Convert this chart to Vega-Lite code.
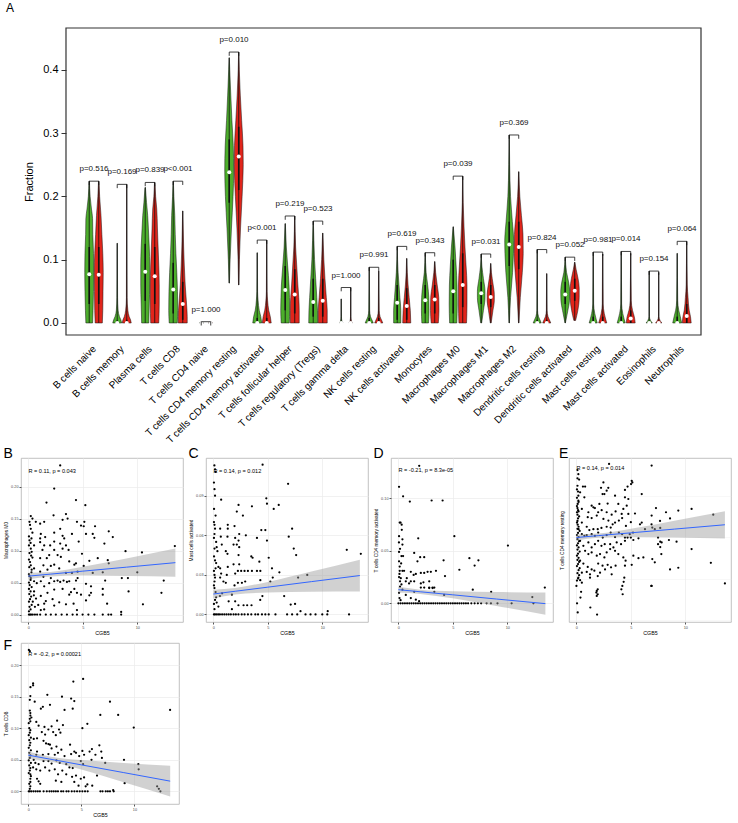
{
"$schema": "https://vega.github.io/schema/vega-lite/v6.json",
"background": "white",
"padding": {"left": 3, "top": 2, "right": 0, "bottom": 0},
"config": {"font": "Liberation Sans", "axis": {"labelOverlap": false}},
"columns": 1,
"align": "none",
"spacing": 1,
"datasets": {
"vio": [
{"c":1,"g":"G","y":0,"w":0.75},{"c":1,"g":"G","y":0.02,"w":0.85},{"c":1,"g":"G","y":0.05,"w":0.95},{"c":1,"g":"G","y":0.08,"w":1},{"c":1,"g":"G","y":0.11,"w":0.95},{"c":1,"g":"G","y":0.14,"w":0.8},{"c":1,"g":"G","y":0.165,"w":0.75},{"c":1,"g":"G","y":0.18,"w":0.5},{"c":1,"g":"G","y":0.2,"w":0.2},{"c":1,"g":"G","y":0.224,"w":0.05},
{"c":1,"g":"R","y":0,"w":0.8},{"c":1,"g":"R","y":0.02,"w":0.9},{"c":1,"g":"R","y":0.05,"w":0.95},{"c":1,"g":"R","y":0.08,"w":1},{"c":1,"g":"R","y":0.11,"w":0.9},{"c":1,"g":"R","y":0.14,"w":0.7},{"c":1,"g":"R","y":0.17,"w":0.5},{"c":1,"g":"R","y":0.2,"w":0.2},{"c":1,"g":"R","y":0.224,"w":0.05},
{"c":2,"g":"G","y":0,"w":1},{"c":2,"g":"G","y":0.005,"w":0.8},{"c":2,"g":"G","y":0.01,"w":0.5},{"c":2,"g":"G","y":0.02,"w":0.2},{"c":2,"g":"G","y":0.04,"w":0.08},{"c":2,"g":"G","y":0.126,"w":0.03},
{"c":2,"g":"R","y":0,"w":1},{"c":2,"g":"R","y":0.005,"w":0.85},{"c":2,"g":"R","y":0.01,"w":0.55},{"c":2,"g":"R","y":0.02,"w":0.25},{"c":2,"g":"R","y":0.04,"w":0.08},{"c":2,"g":"R","y":0.219,"w":0.03},
{"c":3,"g":"G","y":0,"w":0.8},{"c":3,"g":"G","y":0.03,"w":0.9},{"c":3,"g":"G","y":0.06,"w":1},{"c":3,"g":"G","y":0.09,"w":1},{"c":3,"g":"G","y":0.12,"w":0.9},{"c":3,"g":"G","y":0.15,"w":0.7},{"c":3,"g":"G","y":0.17,"w":0.55},{"c":3,"g":"G","y":0.19,"w":0.3},{"c":3,"g":"G","y":0.214,"w":0.05},
{"c":3,"g":"R","y":0,"w":0.9},{"c":3,"g":"R","y":0.03,"w":1},{"c":3,"g":"R","y":0.06,"w":1},{"c":3,"g":"R","y":0.09,"w":0.9},{"c":3,"g":"R","y":0.12,"w":0.75},{"c":3,"g":"R","y":0.15,"w":0.6},{"c":3,"g":"R","y":0.18,"w":0.45},{"c":3,"g":"R","y":0.2,"w":0.2},{"c":3,"g":"R","y":0.222,"w":0.05},
{"c":4,"g":"G","y":0,"w":0.9},{"c":4,"g":"G","y":0.02,"w":1},{"c":4,"g":"G","y":0.05,"w":0.95},{"c":4,"g":"G","y":0.08,"w":0.8},{"c":4,"g":"G","y":0.11,"w":0.6},{"c":4,"g":"G","y":0.14,"w":0.45},{"c":4,"g":"G","y":0.17,"w":0.35},{"c":4,"g":"G","y":0.2,"w":0.15},{"c":4,"g":"G","y":0.224,"w":0.03},
{"c":4,"g":"R","y":0,"w":1},{"c":4,"g":"R","y":0.01,"w":1},{"c":4,"g":"R","y":0.03,"w":0.85},{"c":4,"g":"R","y":0.06,"w":0.55},{"c":4,"g":"R","y":0.09,"w":0.35},{"c":4,"g":"R","y":0.12,"w":0.2},{"c":4,"g":"R","y":0.15,"w":0.1},{"c":4,"g":"R","y":0.177,"w":0.03},
{"c":5,"g":"G","y":0,"w":0.5},{"c":5,"g":"G","y":0.002,"w":0.1},{"c":5,"g":"R","y":0,"w":0.5},{"c":5,"g":"R","y":0.002,"w":0.1},
{"c":6,"g":"G","y":0.063,"w":0.05},{"c":6,"g":"G","y":0.1,"w":0.2},{"c":6,"g":"G","y":0.15,"w":0.5},{"c":6,"g":"G","y":0.2,"w":0.85},{"c":6,"g":"G","y":0.24,"w":1},{"c":6,"g":"G","y":0.28,"w":0.9},{"c":6,"g":"G","y":0.32,"w":0.6},{"c":6,"g":"G","y":0.36,"w":0.35},{"c":6,"g":"G","y":0.4,"w":0.12},{"c":6,"g":"G","y":0.419,"w":0.03},
{"c":6,"g":"R","y":0.06,"w":0.05},{"c":6,"g":"R","y":0.1,"w":0.15},{"c":6,"g":"R","y":0.15,"w":0.4},{"c":6,"g":"R","y":0.2,"w":0.75},{"c":6,"g":"R","y":0.25,"w":1},{"c":6,"g":"R","y":0.28,"w":0.95},{"c":6,"g":"R","y":0.32,"w":0.65},{"c":6,"g":"R","y":0.36,"w":0.35},{"c":6,"g":"R","y":0.4,"w":0.12},{"c":6,"g":"R","y":0.428,"w":0.03},
{"c":7,"g":"G","y":0,"w":1},{"c":7,"g":"G","y":0.01,"w":0.8},{"c":7,"g":"G","y":0.02,"w":0.45},{"c":7,"g":"G","y":0.035,"w":0.2},{"c":7,"g":"G","y":0.05,"w":0.08},{"c":7,"g":"G","y":0.111,"w":0.03},
{"c":7,"g":"R","y":0,"w":1},{"c":7,"g":"R","y":0.01,"w":0.8},{"c":7,"g":"R","y":0.02,"w":0.45},{"c":7,"g":"R","y":0.035,"w":0.2},{"c":7,"g":"R","y":0.05,"w":0.08},{"c":7,"g":"R","y":0.131,"w":0.03},
{"c":8,"g":"G","y":0,"w":0.9},{"c":8,"g":"G","y":0.02,"w":1},{"c":8,"g":"G","y":0.04,"w":0.95},{"c":8,"g":"G","y":0.06,"w":0.85},{"c":8,"g":"G","y":0.09,"w":0.55},{"c":8,"g":"G","y":0.12,"w":0.25},{"c":8,"g":"G","y":0.157,"w":0.03},
{"c":8,"g":"R","y":0,"w":1},{"c":8,"g":"R","y":0.02,"w":1},{"c":8,"g":"R","y":0.04,"w":0.9},{"c":8,"g":"R","y":0.06,"w":0.7},{"c":8,"g":"R","y":0.09,"w":0.45},{"c":8,"g":"R","y":0.12,"w":0.2},{"c":8,"g":"R","y":0.169,"w":0.03},
{"c":9,"g":"G","y":0,"w":1},{"c":9,"g":"G","y":0.02,"w":0.95},{"c":9,"g":"G","y":0.04,"w":0.8},{"c":9,"g":"G","y":0.07,"w":0.55},{"c":9,"g":"G","y":0.1,"w":0.3},{"c":9,"g":"G","y":0.13,"w":0.15},{"c":9,"g":"G","y":0.161,"w":0.03},
{"c":9,"g":"R","y":0,"w":1},{"c":9,"g":"R","y":0.02,"w":1},{"c":9,"g":"R","y":0.04,"w":0.8},{"c":9,"g":"R","y":0.07,"w":0.5},{"c":9,"g":"R","y":0.1,"w":0.25},{"c":9,"g":"R","y":0.142,"w":0.03},
{"c":10,"g":"G","y":0,"w":0.4},{"c":10,"g":"G","y":0.003,"w":0.15},{"c":10,"g":"G","y":0.01,"w":0.05},{"c":10,"g":"G","y":0.038,"w":0.02},
{"c":10,"g":"R","y":0,"w":0.4},{"c":10,"g":"R","y":0.003,"w":0.15},{"c":10,"g":"R","y":0.01,"w":0.05},{"c":10,"g":"R","y":0.056,"w":0.02},
{"c":11,"g":"G","y":0,"w":0.9},{"c":11,"g":"G","y":0.005,"w":0.6},{"c":11,"g":"G","y":0.01,"w":0.3},{"c":11,"g":"G","y":0.02,"w":0.1},{"c":11,"g":"G","y":0.088,"w":0.03},
{"c":11,"g":"R","y":0,"w":0.9},{"c":11,"g":"R","y":0.005,"w":0.6},{"c":11,"g":"R","y":0.01,"w":0.3},{"c":11,"g":"R","y":0.02,"w":0.1},{"c":11,"g":"R","y":0.082,"w":0.03},
{"c":12,"g":"G","y":0,"w":0.8},{"c":12,"g":"G","y":0.02,"w":0.8},{"c":12,"g":"G","y":0.04,"w":0.6},{"c":12,"g":"G","y":0.06,"w":0.4},{"c":12,"g":"G","y":0.08,"w":0.2},{"c":12,"g":"G","y":0.1,"w":0.08},{"c":12,"g":"G","y":0.121,"w":0.03},
{"c":12,"g":"R","y":0,"w":0.9},{"c":12,"g":"R","y":0.02,"w":0.8},{"c":12,"g":"R","y":0.04,"w":0.55},{"c":12,"g":"R","y":0.06,"w":0.3},{"c":12,"g":"R","y":0.08,"w":0.12},{"c":12,"g":"R","y":0.102,"w":0.03},
{"c":13,"g":"G","y":0,"w":0.75},{"c":13,"g":"G","y":0.02,"w":0.85},{"c":13,"g":"G","y":0.04,"w":0.8},{"c":13,"g":"G","y":0.06,"w":0.55},{"c":13,"g":"G","y":0.08,"w":0.2},{"c":13,"g":"G","y":0.111,"w":0.03},
{"c":13,"g":"R","y":0,"w":0.8},{"c":13,"g":"R","y":0.02,"w":0.95},{"c":13,"g":"R","y":0.04,"w":0.9},{"c":13,"g":"R","y":0.06,"w":0.55},{"c":13,"g":"R","y":0.08,"w":0.2},{"c":13,"g":"R","y":0.097,"w":0.03},
{"c":14,"g":"G","y":0,"w":0.8},{"c":14,"g":"G","y":0.03,"w":0.9},{"c":14,"g":"G","y":0.06,"w":0.85},{"c":14,"g":"G","y":0.09,"w":0.65},{"c":14,"g":"G","y":0.12,"w":0.4},{"c":14,"g":"G","y":0.152,"w":0.03},
{"c":14,"g":"R","y":0,"w":0.85},{"c":14,"g":"R","y":0.03,"w":0.95},{"c":14,"g":"R","y":0.06,"w":0.95},{"c":14,"g":"R","y":0.09,"w":0.75},{"c":14,"g":"R","y":0.12,"w":0.5},{"c":14,"g":"R","y":0.15,"w":0.3},{"c":14,"g":"R","y":0.19,"w":0.1},{"c":14,"g":"R","y":0.232,"w":0.03},
{"c":15,"g":"G","y":0,"w":0.1},{"c":15,"g":"G","y":0.02,"w":0.5},{"c":15,"g":"G","y":0.04,"w":0.85},{"c":15,"g":"G","y":0.05,"w":0.85},{"c":15,"g":"G","y":0.07,"w":0.5},{"c":15,"g":"G","y":0.09,"w":0.15},{"c":15,"g":"G","y":0.109,"w":0.03},
{"c":15,"g":"R","y":0,"w":0.1},{"c":15,"g":"R","y":0.02,"w":0.5},{"c":15,"g":"R","y":0.035,"w":0.8},{"c":15,"g":"R","y":0.045,"w":0.8},{"c":15,"g":"R","y":0.06,"w":0.55},{"c":15,"g":"R","y":0.08,"w":0.15},{"c":15,"g":"R","y":0.094,"w":0.03},
{"c":16,"g":"G","y":0,"w":0.05},{"c":16,"g":"G","y":0.04,"w":0.3},{"c":16,"g":"G","y":0.08,"w":0.75},{"c":16,"g":"G","y":0.11,"w":0.95},{"c":16,"g":"G","y":0.13,"w":1},{"c":16,"g":"G","y":0.16,"w":0.7},{"c":16,"g":"G","y":0.2,"w":0.3},{"c":16,"g":"G","y":0.25,"w":0.1},{"c":16,"g":"G","y":0.297,"w":0.03},
{"c":16,"g":"R","y":0,"w":0.05},{"c":16,"g":"R","y":0.04,"w":0.35},{"c":16,"g":"R","y":0.08,"w":0.8},{"c":16,"g":"R","y":0.11,"w":1},{"c":16,"g":"R","y":0.14,"w":0.95},{"c":16,"g":"R","y":0.17,"w":0.6},{"c":16,"g":"R","y":0.2,"w":0.25},{"c":16,"g":"R","y":0.239,"w":0.03},
{"c":17,"g":"G","y":0,"w":0.9},{"c":17,"g":"G","y":0.005,"w":0.6},{"c":17,"g":"G","y":0.01,"w":0.3},{"c":17,"g":"G","y":0.02,"w":0.08},{"c":17,"g":"G","y":0.116,"w":0.03},
{"c":17,"g":"R","y":0,"w":0.9},{"c":17,"g":"R","y":0.005,"w":0.6},{"c":17,"g":"R","y":0.01,"w":0.3},{"c":17,"g":"R","y":0.02,"w":0.08},{"c":17,"g":"R","y":0.078,"w":0.03},
{"c":18,"g":"G","y":0,"w":0.05},{"c":18,"g":"G","y":0.02,"w":0.6},{"c":18,"g":"G","y":0.035,"w":0.95},{"c":18,"g":"G","y":0.05,"w":1},{"c":18,"g":"G","y":0.065,"w":0.75},{"c":18,"g":"G","y":0.08,"w":0.3},{"c":18,"g":"G","y":0.104,"w":0.03},
{"c":18,"g":"R","y":0.004,"w":0.2},{"c":18,"g":"R","y":0.02,"w":0.7},{"c":18,"g":"R","y":0.04,"w":1},{"c":18,"g":"R","y":0.055,"w":1},{"c":18,"g":"R","y":0.07,"w":0.75},{"c":18,"g":"R","y":0.085,"w":0.3},{"c":18,"g":"R","y":0.096,"w":0.03},
{"c":19,"g":"G","y":0,"w":0.9},{"c":19,"g":"G","y":0.005,"w":0.7},{"c":19,"g":"G","y":0.015,"w":0.35},{"c":19,"g":"G","y":0.03,"w":0.1},{"c":19,"g":"G","y":0.112,"w":0.03},
{"c":19,"g":"R","y":0,"w":0.9},{"c":19,"g":"R","y":0.005,"w":0.7},{"c":19,"g":"R","y":0.015,"w":0.35},{"c":19,"g":"R","y":0.03,"w":0.1},{"c":19,"g":"R","y":0.109,"w":0.03},
{"c":20,"g":"G","y":0,"w":0.9},{"c":20,"g":"G","y":0.005,"w":0.7},{"c":20,"g":"G","y":0.015,"w":0.35},{"c":20,"g":"G","y":0.03,"w":0.1},{"c":20,"g":"G","y":0.113,"w":0.03},
{"c":20,"g":"R","y":0,"w":1},{"c":20,"g":"R","y":0.01,"w":0.8},{"c":20,"g":"R","y":0.02,"w":0.4},{"c":20,"g":"R","y":0.035,"w":0.12},{"c":20,"g":"R","y":0.11,"w":0.03},
{"c":21,"g":"G","y":0,"w":0.7},{"c":21,"g":"G","y":0.004,"w":0.3},{"c":21,"g":"G","y":0.01,"w":0.05},{"c":21,"g":"G","y":0.082,"w":0.02},
{"c":21,"g":"R","y":0,"w":0.7},{"c":21,"g":"R","y":0.004,"w":0.3},{"c":21,"g":"R","y":0.01,"w":0.05},{"c":21,"g":"R","y":0.08,"w":0.02},
{"c":22,"g":"G","y":0,"w":1},{"c":22,"g":"G","y":0.01,"w":0.7},{"c":22,"g":"G","y":0.02,"w":0.35},{"c":22,"g":"G","y":0.035,"w":0.12},{"c":22,"g":"G","y":0.11,"w":0.03},
{"c":22,"g":"R","y":0,"w":1},{"c":22,"g":"R","y":0.01,"w":0.85},{"c":22,"g":"R","y":0.02,"w":0.55},{"c":22,"g":"R","y":0.04,"w":0.3},{"c":22,"g":"R","y":0.06,"w":0.12},{"c":22,"g":"R","y":0.129,"w":0.03}
],
"vs": [
{"c":1,"g":"G","lo":0,"hi":0.224,"q1":0.03,"q3":0.12,"m":0.077},{"c":1,"g":"R","lo":0,"hi":0.224,"q1":0.03,"q3":0.12,"m":0.076},
{"c":2,"g":"G","lo":0,"hi":0.126,"q1":0,"q3":0.004,"m":0},{"c":2,"g":"R","lo":0,"hi":0.219,"q1":0,"q3":0.005,"m":0},
{"c":3,"g":"G","lo":0,"hi":0.214,"q1":0.035,"q3":0.125,"m":0.081},{"c":3,"g":"R","lo":0,"hi":0.222,"q1":0.03,"q3":0.12,"m":0.074},
{"c":4,"g":"G","lo":0,"hi":0.224,"q1":0.015,"q3":0.095,"m":0.053},{"c":4,"g":"R","lo":0,"hi":0.177,"q1":0.005,"q3":0.065,"m":0.03},
{"c":5,"g":"G","lo":0,"hi":0.002,"q1":0,"q3":0,"m":0},{"c":5,"g":"R","lo":0,"hi":0.002,"q1":0,"q3":0,"m":0},
{"c":6,"g":"G","lo":0.063,"hi":0.419,"q1":0.19,"q3":0.29,"m":0.238},{"c":6,"g":"R","lo":0.06,"hi":0.428,"q1":0.21,"q3":0.31,"m":0.263},
{"c":7,"g":"G","lo":0,"hi":0.111,"q1":0,"q3":0.008,"m":0},{"c":7,"g":"R","lo":0,"hi":0.131,"q1":0,"q3":0.008,"m":0},
{"c":8,"g":"G","lo":0,"hi":0.157,"q1":0.02,"q3":0.09,"m":0.052},{"c":8,"g":"R","lo":0,"hi":0.169,"q1":0.015,"q3":0.085,"m":0.045},
{"c":9,"g":"G","lo":0,"hi":0.161,"q1":0.01,"q3":0.07,"m":0.033},{"c":9,"g":"R","lo":0,"hi":0.142,"q1":0.01,"q3":0.07,"m":0.035},
{"c":10,"g":"G","lo":0,"hi":0.038,"q1":0,"q3":0,"m":0},{"c":10,"g":"R","lo":0,"hi":0.056,"q1":0,"q3":0,"m":0},
{"c":11,"g":"G","lo":0,"hi":0.088,"q1":0,"q3":0.008,"m":0},{"c":11,"g":"R","lo":0,"hi":0.082,"q1":0,"q3":0.008,"m":0},
{"c":12,"g":"G","lo":0,"hi":0.121,"q1":0.005,"q3":0.06,"m":0.032},{"c":12,"g":"R","lo":0,"hi":0.102,"q1":0.005,"q3":0.055,"m":0.027},
{"c":13,"g":"G","lo":0,"hi":0.111,"q1":0.015,"q3":0.06,"m":0.036},{"c":13,"g":"R","lo":0,"hi":0.097,"q1":0.015,"q3":0.06,"m":0.037},
{"c":14,"g":"G","lo":0,"hi":0.152,"q1":0.015,"q3":0.1,"m":0.05},{"c":14,"g":"R","lo":0,"hi":0.232,"q1":0.025,"q3":0.11,"m":0.06},
{"c":15,"g":"G","lo":0,"hi":0.109,"q1":0.03,"q3":0.065,"m":0.047},{"c":15,"g":"R","lo":0,"hi":0.094,"q1":0.025,"q3":0.06,"m":0.041},
{"c":16,"g":"G","lo":0,"hi":0.297,"q1":0.09,"q3":0.16,"m":0.124},{"c":16,"g":"R","lo":0,"hi":0.239,"q1":0.085,"q3":0.16,"m":0.12},
{"c":17,"g":"G","lo":0,"hi":0.116,"q1":0,"q3":0.005,"m":0},{"c":17,"g":"R","lo":0,"hi":0.078,"q1":0,"q3":0.005,"m":0},
{"c":18,"g":"G","lo":0,"hi":0.104,"q1":0.03,"q3":0.065,"m":0.045},{"c":18,"g":"R","lo":0.004,"hi":0.096,"q1":0.035,"q3":0.07,"m":0.051},
{"c":19,"g":"G","lo":0,"hi":0.112,"q1":0,"q3":0.01,"m":0},{"c":19,"g":"R","lo":0,"hi":0.109,"q1":0,"q3":0.01,"m":0},
{"c":20,"g":"G","lo":0,"hi":0.113,"q1":0,"q3":0.01,"m":0},{"c":20,"g":"R","lo":0,"hi":0.11,"q1":0,"q3":0.02,"m":0.007},
{"c":21,"g":"G","lo":0,"hi":0.082,"q1":0,"q3":0,"m":0},{"c":21,"g":"R","lo":0,"hi":0.08,"q1":0,"q3":0,"m":0},
{"c":22,"g":"G","lo":0,"hi":0.11,"q1":0,"q3":0.01,"m":0},{"c":22,"g":"R","lo":0,"hi":0.129,"q1":0,"q3":0.03,"m":0.011}
],
"pv": [
{"c":1,"yb":0.224,"p":"p=0.516"},{"c":2,"yb":0.219,"p":"p=0.169"},{"c":3,"yb":0.222,"p":"p=0.839"},{"c":4,"yb":0.224,"p":"p<0.001"},{"c":5,"yb":0.002,"p":"p=1.000"},{"c":6,"yb":0.428,"p":"p=0.010"},{"c":7,"yb":0.131,"p":"p<0.001"},{"c":8,"yb":0.169,"p":"p=0.219"},{"c":9,"yb":0.161,"p":"p=0.523"},{"c":10,"yb":0.056,"p":"p=1.000"},{"c":11,"yb":0.088,"p":"p=0.991"},{"c":12,"yb":0.121,"p":"p=0.619"},{"c":13,"yb":0.111,"p":"p=0.343"},{"c":14,"yb":0.232,"p":"p=0.039"},{"c":15,"yb":0.109,"p":"p=0.031"},{"c":16,"yb":0.297,"p":"p=0.369"},{"c":17,"yb":0.116,"p":"p=0.824"},{"c":18,"yb":0.104,"p":"p=0.052"},{"c":19,"yb":0.112,"p":"p=0.981"},{"c":20,"yb":0.113,"p":"p=0.014"},{"c":21,"yb":0.082,"p":"p=0.154"},{"c":22,"yb":0.129,"p":"p=0.064"}
],
"rB": [{"x":0,"lo":0.0548,"hi":0.0652,"m":0.06},{"x":2,"lo":0.0596,"hi":0.0666,"m":0.0631},{"x":5,"lo":0.0611,"hi":0.0745,"m":0.0678},{"x":9,"lo":0.0603,"hi":0.0877,"m":0.074},{"x":13.5,"lo":0.0591,"hi":0.1031,"m":0.0811}],
"rC": [{"x":0,"lo":0.0123,"hi":0.0187,"m":0.0155},{"x":2,"lo":0.0151,"hi":0.0201,"m":0.0176},{"x":5,"lo":0.0167,"hi":0.0247,"m":0.0207},{"x":9,"lo":0.0173,"hi":0.0325,"m":0.0249},{"x":13.45,"lo":0.0175,"hi":0.0415,"m":0.0295}],
"rD": [{"x":0,"lo":0.0103,"hi":0.0157,"m":0.013},{"x":2,"lo":0.009,"hi":0.013,"m":0.011},{"x":5,"lo":0.0048,"hi":0.0115,"m":0.0081},{"x":9,"lo":-0.0025,"hi":0.0107,"m":0.0041},{"x":13.5,"lo":-0.0108,"hi":0.0102,"m":-0.0003}],
"rE": [{"x":0,"lo":0.2415,"hi":0.2565,"m":0.249},{"x":2,"lo":0.2485,"hi":0.2585,"m":0.2535},{"x":5,"lo":0.2505,"hi":0.2701,"m":0.2603},{"x":9,"lo":0.2491,"hi":0.2895,"m":0.2693},{"x":13.64,"lo":0.2469,"hi":0.3127,"m":0.2798}],
"rF": [{"x":0,"lo":0.0516,"hi":0.0632,"m":0.0574},{"x":2,"lo":0.0472,"hi":0.0552,"m":0.0512},{"x":5,"lo":0.0345,"hi":0.0495,"m":0.042},{"x":9,"lo":0.0143,"hi":0.0451,"m":0.0297},{"x":13.37,"lo":-0.0083,"hi":0.0407,"m":0.0162}],
"sB": [
{"x":2.92,"y":0.233},{"x":2.37,"y":0.197},{"x":1.66,"y":0.175},{"x":4.37,"y":0.179},{"x":5.23,"y":0.171},{"x":3.45,"y":0.157},{"x":3.6,"y":0.15},{"x":3.14,"y":0.148},{"x":2.31,"y":0.155},{"x":0.22,"y":0.154},{"x":0.37,"y":0.15},{"x":0.68,"y":0.145},{"x":1.45,"y":0.145},{"x":1.08,"y":0.142},{"x":4.46,"y":0.145},{"x":5.14,"y":0.145},{"x":4.83,"y":0.139},{"x":5.08,"y":0.138},{"x":6.12,"y":0.138},{"x":0.22,"y":0.134},{"x":2.92,"y":0.134},{"x":0.37,"y":0.128},{"x":0.28,"y":0.119},{"x":1.14,"y":0.126},{"x":2.37,"y":0.128},{"x":4.0,"y":0.126},{"x":5.29,"y":0.126},{"x":5.91,"y":0.126},{"x":7.38,"y":0.13},{"x":1.08,"y":0.119},{"x":1.54,"y":0.121},{"x":3.14,"y":0.123},{"x":3.29,"y":0.119},{"x":6.06,"y":0.12},{"x":7.75,"y":0.121},{"x":1.08,"y":0.113},{"x":2.37,"y":0.114},{"x":4.62,"y":0.114},{"x":0.52,"y":0.108},{"x":1.45,"y":0.108},{"x":2.0,"y":0.108},{"x":2.92,"y":0.111},{"x":3.45,"y":0.108},{"x":6.98,"y":0.111},{"x":0.22,"y":0.103},{"x":0.3,"y":0.098},{"x":1.29,"y":0.101},{"x":2.37,"y":0.101},{"x":3.14,"y":0.103},{"x":3.69,"y":0.101},{"x":4.92,"y":0.095},{"x":8.92,"y":0.099},{"x":10.43,"y":0.097},{"x":13.45,"y":0.107},{"x":1.91,"y":0.093},{"x":2.68,"y":0.093},{"x":2.98,"y":0.09},{"x":0.37,"y":0.089},{"x":1.08,"y":0.088},{"x":1.69,"y":0.088},{"x":3.75,"y":0.083},{"x":4.37,"y":0.08},{"x":7.29,"y":0.085},{"x":7.38,"y":0.08},{"x":5.6,"y":0.084},{"x":6.37,"y":0.088},{"x":0.22,"y":0.077},{"x":1.38,"y":0.077},{"x":2.06,"y":0.076},{"x":2.37,"y":0.078},{"x":4.22,"y":0.078},{"x":5.08,"y":0.076},{"x":0.52,"y":0.072},{"x":1.75,"y":0.07},{"x":2.83,"y":0.072},{"x":0.28,"y":0.066},{"x":1.08,"y":0.067},{"x":3.45,"y":0.065},{"x":4.0,"y":0.065},{"x":5.91,"y":0.065},{"x":4.52,"y":0.067},{"x":10.0,"y":0.066},{"x":6.83,"y":0.066},{"x":1.38,"y":0.059},{"x":2.06,"y":0.057},{"x":2.68,"y":0.053},{"x":3.54,"y":0.051},{"x":4.52,"y":0.057},{"x":0.22,"y":0.057},{"x":8.58,"y":0.057},{"x":9.14,"y":0.057},{"x":12.43,"y":0.053},{"x":7.05,"y":0.053},{"x":0.52,"y":0.052},{"x":0.77,"y":0.049},{"x":1.14,"y":0.052},{"x":1.91,"y":0.049},{"x":2.37,"y":0.052},{"x":2.92,"y":0.051},{"x":3.23,"y":0.053},{"x":3.75,"y":0.052},{"x":4.37,"y":0.053},{"x":5.29,"y":0.048},{"x":5.75,"y":0.044},{"x":1.45,"y":0.044},{"x":2.37,"y":0.039},{"x":4.22,"y":0.04},{"x":6.83,"y":0.04},{"x":9.2,"y":0.036},{"x":12.22,"y":0.034},{"x":0.52,"y":0.036},{"x":1.75,"y":0.034},{"x":4.83,"y":0.031},{"x":3.75,"y":0.031},
{"x":3.14,"y":0.04},{"x":3.91,"y":0.035},{"x":4.46,"y":0.034},{"x":5.6,"y":0.03},{"x":5.75,"y":0.034},{"x":6.83,"y":0.031},{"x":1.14,"y":0.029},{"x":1.6,"y":0.021},{"x":1.45,"y":0.017},{"x":2.22,"y":0.024},{"x":2.37,"y":0.014},{"x":2.83,"y":0.019},{"x":3.45,"y":0.016},{"x":4.15,"y":0.017},{"x":4.46,"y":0.007},{"x":5.29,"y":0.022},{"x":7.23,"y":0.017},{"x":8.52,"y":0.004},{"x":10.52,"y":0.016},{"x":1.45,"y":0.008},{"x":1.14,"y":0.007},
{"x":1.08,"y":0},{"x":1.6,"y":0},{"x":2.06,"y":0},{"x":2.52,"y":0},{"x":3.05,"y":0},{"x":3.54,"y":0},{"x":4.06,"y":0},{"x":4.46,"y":0},{"x":4.98,"y":0},{"x":5.51,"y":0},{"x":6.06,"y":0},{"x":6.83,"y":0},{"x":7.35,"y":0},{"x":7.6,"y":0},{"x":8.52,"y":0},
{"x":0.05,"y":0},{"x":0.15,"y":0},{"x":0.25,"y":0},{"x":0.4,"y":0},{"x":0.6,"y":0},{"x":0.8,"y":0},{"x":0.05,"y":0.005},{"x":0.2,"y":0.008},{"x":0.1,"y":0.012},{"x":0.3,"y":0.015},{"x":0.05,"y":0.02},{"x":0.15,"y":0.024},{"x":0.25,"y":0.028},{"x":0.08,"y":0.032},{"x":0.2,"y":0.036},{"x":0.05,"y":0.04},{"x":0.3,"y":0.043},{"x":0.12,"y":0.046},{"x":0.05,"y":0.05},{"x":0.2,"y":0.054},{"x":0.1,"y":0.06},{"x":0.05,"y":0.063},{"x":0.3,"y":0.07},{"x":0.08,"y":0.074},{"x":0.15,"y":0.082},{"x":0.05,"y":0.086},{"x":0.25,"y":0.092},{"x":0.1,"y":0.096},{"x":0.05,"y":0.108},{"x":0.2,"y":0.112},{"x":0.1,"y":0.116},{"x":0.05,"y":0.122},{"x":0.15,"y":0.14},{"x":0.1,"y":0.145},{"x":0.4,"y":0.02},{"x":0.6,"y":0.012},{"x":0.5,"y":0.03},{"x":0.7,"y":0.025},{"x":0.9,"y":0.015}
],
"sC": [
{"x":0.09,"y":0.113},{"x":0.15,"y":0.11},{"x":0.2,"y":0.108},{"x":4.52,"y":0.1135},{"x":6.86,"y":0.099},{"x":0.15,"y":0.09},{"x":0.71,"y":0.087},{"x":2.31,"y":0.083},{"x":4.86,"y":0.088},{"x":4.92,"y":0.084},{"x":5.54,"y":0.08},{"x":6.0,"y":0.083},{"x":0.06,"y":0.08},{"x":2.15,"y":0.078},{"x":2.71,"y":0.075},{"x":3.54,"y":0.082},{"x":0.1,"y":0.068},{"x":0.15,"y":0.065},{"x":0.1,"y":0.061},{"x":0.05,"y":0.058},{"x":0.62,"y":0.065},{"x":1.32,"y":0.068},{"x":1.32,"y":0.065},{"x":1.94,"y":0.067},{"x":2.37,"y":0.061},{"x":2.98,"y":0.06},{"x":4.4,"y":0.064},{"x":4.77,"y":0.064},{"x":4.92,"y":0.056},{"x":4.0,"y":0.058},{"x":6.92,"y":0.059},{"x":7.23,"y":0.065},{"x":0.68,"y":0.059},{"x":1.29,"y":0.059},{"x":2.0,"y":0.058},{"x":2.31,"y":0.056},{"x":0.77,"y":0.053},{"x":0.3,"y":0.051},{"x":0.37,"y":0.048},{"x":1.14,"y":0.048},{"x":1.85,"y":0.053},{"x":2.15,"y":0.053},{"x":2.37,"y":0.051},{"x":7.38,"y":0.05},{"x":7.6,"y":0.045},{"x":12.25,"y":0.049},{"x":13.54,"y":0.046},{"x":0.06,"y":0.044},{"x":0.15,"y":0.041},{"x":0.25,"y":0.039},{"x":1.29,"y":0.046},{"x":2.31,"y":0.045},{"x":3.48,"y":0.044},{"x":3.6,"y":0.043},{"x":4.22,"y":0.04},{"x":5.08,"y":0.043},{"x":0.46,"y":0.036},{"x":0.62,"y":0.035},{"x":1.32,"y":0.036},{"x":1.85,"y":0.038},{"x":2.37,"y":0.038},{"x":1.23,"y":0.03},{"x":2.0,"y":0.031},{"x":2.25,"y":0.033},{"x":2.55,"y":0.033},{"x":2.86,"y":0.033},{"x":3.17,"y":0.033},{"x":3.54,"y":0.033},{"x":4.0,"y":0.033},{"x":4.31,"y":0.033},{"x":5.38,"y":0.035},{"x":6.06,"y":0.032},{"x":5.45,"y":0.028},{"x":0.1,"y":0.03},{"x":0.15,"y":0.028},{"x":0.1,"y":0.025},{"x":0.05,"y":0.022},{"x":0.1,"y":0.02},{"x":0.2,"y":0.017},{"x":0.71,"y":0.031},{"x":0.62,"y":0.028},{"x":0.92,"y":0.025},{"x":1.14,"y":0.024},{"x":1.94,"y":0.022},{"x":2.25,"y":0.024},{"x":2.62,"y":0.024},{"x":2.92,"y":0.025},{"x":4.31,"y":0.026},{"x":7.78,"y":0.028},{"x":8.62,"y":0.03},{"x":5.23,"y":0.025},
{"x":0.15,"y":0.011},{"x":0.3,"y":0.009},{"x":0.46,"y":0.006},{"x":0.1,"y":0.004},{"x":0.6,"y":0.014},{"x":0.8,"y":0.016},{"x":1.7,"y":0.015},{"x":2.0,"y":0.01},{"x":2.3,"y":0.007},{"x":2.77,"y":0.007},{"x":3.1,"y":0.007},{"x":3.5,"y":0.007},{"x":4.3,"y":0.011},{"x":4.5,"y":0.014},{"x":6.5,"y":0.014},{"x":7.1,"y":0.0075},{"x":7.5,"y":0.008},{"x":8.0,"y":0.0025},{"x":10.5,"y":0.0025},{"x":1.4,"y":0.01},{"x":1.7,"y":0.004},
{"x":0.05,"y":0},{"x":0.15,"y":0},{"x":0.3,"y":0},{"x":0.45,"y":0},{"x":0.6,"y":0},{"x":0.8,"y":0},{"x":1.0,"y":0},{"x":1.2,"y":0},{"x":1.4,"y":0},{"x":1.6,"y":0},{"x":1.85,"y":0},{"x":2.06,"y":0},{"x":2.3,"y":0},{"x":2.6,"y":0},{"x":2.86,"y":0},{"x":3.17,"y":0},{"x":3.48,"y":0},{"x":3.85,"y":0},{"x":4.1,"y":0},{"x":4.46,"y":0},{"x":4.77,"y":0},{"x":5.08,"y":0},{"x":5.7,"y":0},{"x":6.77,"y":0},{"x":7.23,"y":0},{"x":7.7,"y":0},{"x":8.46,"y":0},{"x":8.92,"y":0},{"x":9.38,"y":0},{"x":10.0,"y":0},{"x":10.46,"y":0},{"x":12.46,"y":0},
{"x":0.05,"y":0.1},{"x":0.1,"y":0.095},{"x":0.2,"y":0.075},{"x":0.05,"y":0.07},{"x":0.25,"y":0.055},{"x":0.1,"y":0.05},{"x":0.2,"y":0.035},{"x":0.05,"y":0.033},{"x":0.25,"y":0.013},{"x":0.05,"y":0.008}
],
"sD": [
{"x":1.91,"y":0.131},{"x":0.06,"y":0.111},{"x":0.43,"y":0.102},{"x":1.05,"y":0.097},{"x":3.05,"y":0.098},{"x":4.06,"y":0.098},{"x":0.12,"y":0.077},{"x":0.2,"y":0.077},{"x":0.3,"y":0.075},{"x":0.31,"y":0.07},{"x":0.06,"y":0.064},{"x":0.37,"y":0.061},{"x":1.82,"y":0.062},{"x":5.14,"y":0.064},{"x":0.37,"y":0.056},{"x":10.06,"y":0.055},{"x":1.45,"y":0.048},{"x":0.06,"y":0.049},{"x":2.0,"y":0.044},{"x":2.37,"y":0.044},{"x":0.28,"y":0.045},{"x":0.43,"y":0.045},{"x":1.75,"y":0.04},{"x":4.15,"y":0.041},{"x":6.52,"y":0.043},{"x":7.35,"y":0.041},{"x":7.0,"y":0.036},{"x":0.06,"y":0.04},{"x":0.12,"y":0.035},{"x":5.6,"y":0.032},{"x":0.12,"y":0.031},{"x":0.37,"y":0.031},{"x":0.52,"y":0.031},{"x":1.14,"y":0.03},{"x":1.4,"y":0.027},{"x":1.6,"y":0.028},{"x":2.06,"y":0.029},{"x":2.37,"y":0.029},{"x":2.68,"y":0.03},{"x":2.98,"y":0.03},{"x":3.45,"y":0.031},{"x":4.28,"y":0.026},{"x":0.06,"y":0.025},{"x":0.22,"y":0.024},{"x":0.15,"y":0.021},{"x":0.28,"y":0.018},{"x":0.77,"y":0.024},{"x":0.68,"y":0.021},{"x":0.98,"y":0.019},{"x":1.14,"y":0.021},{"x":1.45,"y":0.021},{"x":2.06,"y":0.019},{"x":2.3,"y":0.02},{"x":2.83,"y":0.021},{"x":2.06,"y":0.015},{"x":2.37,"y":0.015},{"x":2.83,"y":0.015},{"x":3.14,"y":0.015},{"x":3.3,"y":0.015},{"x":6.83,"y":0.013},{"x":8.52,"y":0.011},{"x":13.45,"y":0.015},{"x":0.15,"y":0.016},{"x":0.37,"y":0.013},{"x":0.06,"y":0.01},
{"x":12.3,"y":0.006},{"x":4.2,"y":0.008},{"x":1.45,"y":0.011},{"x":1.14,"y":0.005},{"x":1.6,"y":0.0035},{"x":1.9,"y":0.002},{"x":0.68,"y":0.008},{"x":3.3,"y":0.011},{"x":2.83,"y":0.0145},{"x":3.14,"y":0.0145},
{"x":0,"y":0},{"x":0.2,"y":0},{"x":0.4,"y":0},{"x":0.6,"y":0},{"x":0.8,"y":0},{"x":1.0,"y":0},{"x":1.2,"y":0},{"x":1.4,"y":0},{"x":1.6,"y":0},{"x":1.8,"y":0},{"x":2.0,"y":0},{"x":2.2,"y":0},{"x":2.4,"y":0},{"x":2.6,"y":0},{"x":2.8,"y":0},{"x":3.0,"y":0},{"x":3.2,"y":0},{"x":3.4,"y":0},{"x":3.6,"y":0},{"x":3.8,"y":0},{"x":4.0,"y":0},{"x":4.2,"y":0},{"x":4.4,"y":0},{"x":4.6,"y":0},{"x":4.8,"y":0},{"x":5.0,"y":0},{"x":5.2,"y":0},{"x":5.4,"y":0},{"x":5.6,"y":0},{"x":5.8,"y":0},{"x":6.0,"y":0},{"x":6.2,"y":0},{"x":6.4,"y":0},{"x":6.7,"y":0},{"x":7.0,"y":0},{"x":7.3,"y":0},{"x":7.6,"y":0},{"x":8.1,"y":0},{"x":8.5,"y":0},{"x":9.1,"y":0},{"x":10.4,"y":0},{"x":12.4,"y":0},
{"x":0.1,"y":0.005},{"x":0.2,"y":0.003},{"x":0.05,"y":0.058},{"x":0.15,"y":0.052},{"x":0.25,"y":0.038},{"x":0.1,"y":0.028}
],
"sE": [
{"x":6.91,"y":0.4226},{"x":3.0,"y":0.4266},{"x":0.1,"y":0.412},{"x":0.18,"y":0.402},{"x":0.1,"y":0.392},{"x":0.25,"y":0.389},{"x":5.08,"y":0.386},{"x":5.14,"y":0.382},{"x":5.02,"y":0.378},{"x":2.48,"y":0.382},{"x":4.7,"y":0.372},{"x":6.0,"y":0.354},{"x":0.1,"y":0.374},{"x":0.6,"y":0.372},{"x":0.8,"y":0.372},{"x":0.34,"y":0.358},{"x":0.18,"y":0.35},{"x":2.26,"y":0.369},{"x":2.78,"y":0.362},{"x":2.93,"y":0.369},{"x":4.46,"y":0.364},{"x":2.4,"y":0.354},{"x":2.57,"y":0.354},{"x":3.55,"y":0.35},{"x":4.46,"y":0.346},{"x":4.77,"y":0.342},{"x":0.73,"y":0.346},{"x":1.4,"y":0.326},{"x":1.56,"y":0.322},{"x":2.11,"y":0.33},{"x":0.18,"y":0.338},{"x":0.12,"y":0.33},{"x":2.87,"y":0.331},{"x":3.85,"y":0.33},{"x":4.62,"y":0.326},{"x":4.31,"y":0.318},{"x":7.31,"y":0.32},{"x":8.23,"y":0.31},{"x":9.36,"y":0.314},{"x":10.58,"y":0.318},{"x":12.57,"y":0.304},{"x":0.1,"y":0.32},{"x":0.2,"y":0.312},{"x":0.1,"y":0.304},{"x":0.5,"y":0.318},{"x":1.1,"y":0.31},{"x":1.7,"y":0.32},{"x":2.0,"y":0.31},{"x":2.32,"y":0.315},{"x":2.78,"y":0.31},{"x":3.24,"y":0.304},{"x":3.6,"y":0.312},{"x":4.16,"y":0.306},{"x":4.77,"y":0.306},{"x":5.38,"y":0.307},{"x":6.91,"y":0.302},{"x":8.6,"y":0.295},{"x":1.04,"y":0.298},{"x":1.4,"y":0.296},{"x":1.87,"y":0.302},{"x":2.48,"y":0.294},{"x":2.94,"y":0.29},{"x":3.33,"y":0.281},{"x":3.55,"y":0.285},{"x":3.9,"y":0.29},{"x":4.2,"y":0.296},{"x":5.0,"y":0.286},{"x":5.84,"y":0.281},{"x":6.0,"y":0.285},{"x":7.68,"y":0.289},{"x":0.1,"y":0.289},{"x":0.12,"y":0.28},{"x":0.2,"y":0.269},{"x":0.5,"y":0.285},{"x":0.95,"y":0.275},{"x":1.19,"y":0.267},{"x":1.56,"y":0.269},{"x":1.96,"y":0.269},{"x":2.3,"y":0.272},{"x":2.78,"y":0.275},{"x":3.15,"y":0.273},{"x":4.55,"y":0.277},{"x":6.3,"y":0.269},{"x":6.9,"y":0.281},{"x":6.97,"y":0.273},{"x":7.2,"y":0.269},{"x":7.7,"y":0.272},{"x":0.5,"y":0.257},{"x":0.73,"y":0.253},{"x":0.95,"y":0.255},{"x":1.4,"y":0.257},{"x":1.7,"y":0.253},{"x":2.0,"y":0.261},{"x":2.42,"y":0.249},{"x":2.78,"y":0.255},{"x":3.15,"y":0.261},{"x":3.55,"y":0.25},{"x":3.9,"y":0.261},{"x":4.2,"y":0.257},{"x":4.46,"y":0.249},{"x":4.9,"y":0.257},{"x":5.2,"y":0.261},{"x":5.7,"y":0.247},{"x":7.5,"y":0.249},{"x":7.7,"y":0.239},{"x":7.5,"y":0.233},{"x":7.7,"y":0.226},{"x":7.8,"y":0.209},{"x":8.5,"y":0.243},{"x":0.34,"y":0.241},{"x":0.64,"y":0.229},{"x":1.1,"y":0.237},{"x":1.4,"y":0.225},{"x":1.7,"y":0.233},{"x":2.0,"y":0.241},{"x":2.3,"y":0.229},{"x":2.6,"y":0.233},{"x":3.1,"y":0.233},{"x":3.4,"y":0.225},{"x":3.7,"y":0.237},{"x":4.1,"y":0.233},{"x":4.46,"y":0.241},{"x":4.7,"y":0.249},{"x":5.0,"y":0.249},{"x":5.23,"y":0.243},{"x":9.2,"y":0.239},{"x":7.83,"y":0.237},{"x":0.8,"y":0.217},{"x":1.1,"y":0.209},{"x":1.4,"y":0.213},{"x":1.87,"y":0.205},{"x":2.17,"y":0.209},{"x":2.57,"y":0.201},{"x":2.78,"y":0.213},{"x":3.1,"y":0.221},{"x":3.55,"y":0.217},{"x":3.85,"y":0.209},{"x":4.31,"y":0.201},{"x":4.52,"y":0.193},{"x":5.23,"y":0.205},{"x":5.7,"y":0.199},{"x":6.15,"y":0.201},{"x":6.97,"y":0.197},{"x":7.2,"y":0.189},{"x":10.58,"y":0.221},{"x":0.34,"y":0.193},{"x":0.64,"y":0.186},{"x":1.04,"y":0.178},{"x":1.4,"y":0.172},{"x":2.0,"y":0.186},{"x":2.4,"y":0.181},{"x":2.87,"y":0.183},{"x":3.18,"y":0.177},{"x":3.6,"y":0.181},{"x":4.46,"y":0.181},{"x":5.08,"y":0.183},{"x":8.6,"y":0.172},{"x":9.36,"y":0.176},{"x":12.35,"y":0.188},{"x":0.5,"y":0.164},{"x":0.95,"y":0.166},{"x":1.25,"y":0.16},{"x":1.65,"y":0.169},{"x":2.17,"y":0.164},{"x":2.63,"y":0.172},{"x":0.18,"y":0.152},{"x":0.34,"y":0.146},{"x":0.5,"y":0.14},{"x":1.25,"y":0.152},{"x":1.96,"y":0.156},{"x":3.24,"y":0.16},{"x":4.4,"y":0.152},{"x":4.34,"y":0.142},{"x":4.22,"y":0.132},{"x":6.91,"y":0.132},{"x":13.64,"y":0.138},{"x":0.43,"y":0.118},{"x":1.87,"y":0.12},{"x":1.96,"y":0.112},{"x":1.87,"y":0.108},
{"x":0.0,"y":0.132},{"x":0.37,"y":0.104},{"x":0.06,"y":0.09},{"x":1.28,"y":0.08},{"x":0.12,"y":0.068},{"x":1.9,"y":0.063},{"x":1.83,"y":0.116},{"x":1.96,"y":0.124},{"x":4.13,"y":0.124},{"x":4.25,"y":0.112},{"x":6.88,"y":0.132},
{"x":0.05,"y":0.145},{"x":0.15,"y":0.15},{"x":0.25,"y":0.158},{"x":0.1,"y":0.163},{"x":0.2,"y":0.17},{"x":0.3,"y":0.175},{"x":0.05,"y":0.18},{"x":0.15,"y":0.185},{"x":0.25,"y":0.19},{"x":0.1,"y":0.195},{"x":0.2,"y":0.2},{"x":0.05,"y":0.205},{"x":0.15,"y":0.21},{"x":0.3,"y":0.215},{"x":0.1,"y":0.22},{"x":0.2,"y":0.225},{"x":0.05,"y":0.23},{"x":0.15,"y":0.235},{"x":0.25,"y":0.24},{"x":0.1,"y":0.245},{"x":0.2,"y":0.25},{"x":0.05,"y":0.255},{"x":0.15,"y":0.26},{"x":0.3,"y":0.265},{"x":0.1,"y":0.27},{"x":0.2,"y":0.275},{"x":0.05,"y":0.285},{"x":0.15,"y":0.295},{"x":0.25,"y":0.3},{"x":0.05,"y":0.31},{"x":0.15,"y":0.315},{"x":0.05,"y":0.325},{"x":0.2,"y":0.335},{"x":0.05,"y":0.345},{"x":0.15,"y":0.36},{"x":0.05,"y":0.365}
],
"sF": [
{"x":0.06,"y":0.224},{"x":0.15,"y":0.222},{"x":5.17,"y":0.178},{"x":4.25,"y":0.174},{"x":0.46,"y":0.171},{"x":0.21,"y":0.165},{"x":0.46,"y":0.168},{"x":1.8,"y":0.153},{"x":0.2,"y":0.151},{"x":0.15,"y":0.145},{"x":3.18,"y":0.15},{"x":4.04,"y":0.147},{"x":4.34,"y":0.143},{"x":7.7,"y":0.142},{"x":1.38,"y":0.134},{"x":1.19,"y":0.131},{"x":0.61,"y":0.142},{"x":2.05,"y":0.137},{"x":3.42,"y":0.129},{"x":4.19,"y":0.131},{"x":13.36,"y":0.129},{"x":0.15,"y":0.128},{"x":0.2,"y":0.124},{"x":0.2,"y":0.12},{"x":0.15,"y":0.115},{"x":0.2,"y":0.111},{"x":5.57,"y":0.107},{"x":6.79,"y":0.121},{"x":8.47,"y":0.121},{"x":9.94,"y":0.101},{"x":0.76,"y":0.11},{"x":0.98,"y":0.104},{"x":1.53,"y":0.102},{"x":1.9,"y":0.098},{"x":2.2,"y":0.103},{"x":2.72,"y":0.112},{"x":3.27,"y":0.105},{"x":2.9,"y":0.098},{"x":1.28,"y":0.094},{"x":1.59,"y":0.09},{"x":2.35,"y":0.094},{"x":2.6,"y":0.089},{"x":3.03,"y":0.093},{"x":5.1,"y":0.1},
{"x":0.1,"y":0.1},{"x":0.2,"y":0.097},{"x":0.15,"y":0.093},{"x":0.05,"y":0.089},{"x":0.25,"y":0.085},{"x":0.1,"y":0.081},{"x":0.2,"y":0.077},{"x":0.15,"y":0.073},{"x":0.05,"y":0.069},{"x":0.25,"y":0.065},{"x":0.1,"y":0.061},{"x":0.2,"y":0.057},{"x":0.15,"y":0.053},{"x":0.05,"y":0.049},{"x":0.25,"y":0.045},{"x":0.1,"y":0.041},{"x":0.2,"y":0.037},{"x":0.15,"y":0.033},{"x":0.05,"y":0.029},{"x":0.25,"y":0.024},{"x":0.1,"y":0.012},{"x":0.2,"y":0.008},{"x":0.15,"y":0.004},{"x":0.05,"y":0.108},{"x":0.3,"y":0.117},
{"x":0.52,"y":0.083},{"x":0.83,"y":0.084},{"x":1.44,"y":0.08},{"x":1.68,"y":0.076},{"x":1.9,"y":0.075},{"x":2.05,"y":0.074},{"x":2.2,"y":0.068},{"x":2.66,"y":0.071},{"x":3.12,"y":0.066},{"x":3.94,"y":0.074},{"x":4.34,"y":0.063},{"x":5.1,"y":0.064},{"x":5.78,"y":0.063},{"x":6.0,"y":0.067},{"x":6.7,"y":0.073},{"x":6.88,"y":0.063},{"x":0.83,"y":0.063},{"x":0.76,"y":0.058},{"x":1.38,"y":0.058},{"x":1.9,"y":0.059},{"x":2.5,"y":0.058},{"x":2.8,"y":0.061},{"x":3.42,"y":0.056},{"x":4.04,"y":0.059},{"x":4.5,"y":0.061},{"x":4.8,"y":0.056},{"x":5.26,"y":0.058},{"x":6.33,"y":0.058},{"x":0.52,"y":0.05},{"x":0.67,"y":0.045},{"x":0.98,"y":0.043},{"x":1.44,"y":0.048},{"x":1.9,"y":0.048},{"x":2.2,"y":0.044},{"x":2.66,"y":0.049},{"x":2.97,"y":0.045},{"x":3.58,"y":0.043},{"x":3.88,"y":0.038},{"x":4.19,"y":0.037},{"x":4.95,"y":0.048},{"x":5.17,"y":0.043},{"x":5.96,"y":0.05},{"x":6.94,"y":0.053},{"x":7.25,"y":0.045},{"x":9.02,"y":0.05},{"x":10.37,"y":0.043},{"x":10.4,"y":0.035},{"x":0.46,"y":0.038},{"x":0.76,"y":0.035},{"x":1.13,"y":0.033},{"x":1.59,"y":0.038},{"x":1.99,"y":0.033},{"x":2.5,"y":0.035},{"x":2.81,"y":0.027},{"x":3.21,"y":0.033},{"x":3.58,"y":0.027},{"x":4.13,"y":0.023},{"x":4.5,"y":0.025},{"x":5.26,"y":0.022},{"x":4.95,"y":0.02},{"x":6.48,"y":0.025},{"x":0.2,"y":0.027},{"x":0.2,"y":0.02},{"x":0.2,"y":0.015},{"x":0.83,"y":0.02},{"x":0.98,"y":0.016},{"x":1.13,"y":0.012},{"x":2.6,"y":0.017},{"x":3.12,"y":0.015},{"x":4.34,"y":0.015},{"x":4.74,"y":0.009},{"x":5.41,"y":0.008},{"x":5.57,"y":0.011},{"x":6.03,"y":0.009},{"x":9.08,"y":0.013},{"x":12.14,"y":0.008},{"x":12.3,"y":0.004},{"x":8.0,"y":0.002},
{"x":0.05,"y":0},{"x":0.15,"y":0},{"x":0.3,"y":0},{"x":0.5,"y":0},{"x":0.7,"y":0},{"x":0.9,"y":0},{"x":1.1,"y":0},{"x":1.45,"y":0},{"x":1.75,"y":0},{"x":2.0,"y":0},{"x":2.2,"y":0},{"x":2.4,"y":0},{"x":2.6,"y":0},{"x":2.8,"y":0},{"x":3.1,"y":0},{"x":3.3,"y":0},{"x":3.6,"y":0},{"x":3.8,"y":0},{"x":4.1,"y":0},{"x":4.35,"y":0},{"x":4.6,"y":0},{"x":4.85,"y":0},{"x":5.1,"y":0},{"x":5.35,"y":0},{"x":5.6,"y":0},{"x":6.8,"y":0},{"x":7.0,"y":0},{"x":7.3,"y":0},{"x":7.5,"y":0},{"x":7.7,"y":0},{"x":8.05,"y":0},{"x":12.45,"y":0}
]
},
"concat": [
{
"width": 680, "height": 307,
"title": {"text": "A", "anchor": "start", "frame": "group", "fontSize": 12, "fontWeight": "normal", "dx": -15, "offset": 12},
"view": {"stroke": null},
"resolve": {"axis": {"x": "independent", "y": "independent"}},
"layer": [
{"data": {"values": [{}]},
 "mark": {"type": "rect", "filled": false, "color": "#333333", "strokeWidth": 1.2},
 "encoding": {"x": {"datum": 0, "type": "quantitative", "scale": {"domain": [-1.607, 22.68], "nice": false, "zero": false}, "axis": null},
  "x2": {"datum": 22.68},
  "y": {"datum": -0.019, "type": "quantitative", "scale": {"domain": [-0.019, 0.466], "nice": false, "zero": false}, "axis": null},
  "y2": {"datum": 0.466}}},
{"data": {"name": "vio"},
 "transform": [{"calculate": "datum.c + (datum.g === 'G' ? -0.17 : 0.17)", "as": "xc"}, {"calculate": "datum.xc - datum.w*0.16", "as": "xl"}, {"calculate": "datum.xc + datum.w*0.16", "as": "xr"}],
 "mark": {"type": "area", "orient": "horizontal", "interpolate": "monotone", "stroke": "#111111", "strokeWidth": 0.5},
 "encoding": {
  "y": {"field": "y", "type": "quantitative", "scale": {"domain": [-0.019, 0.466], "nice": false, "zero": false},
        "axis": {"values": [0, 0.1, 0.2, 0.3, 0.4], "format": ".1f", "offset": -45, "labelFontSize": 11, "labelColor": "black", "tickSize": 5, "tickColor": "#333333", "domain": false, "grid": false, "title": "Fraction", "titleFontSize": 11, "titleFontWeight": "normal", "titleColor": "black", "titlePadding": 8, "labelPadding": 3}},
  "x": {"field": "xl", "type": "quantitative", "scale": {"domain": [-1.607, 22.68], "nice": false, "zero": false},
        "axis": {"values": [1,2,3,4,5,6,7,8,9,10,11,12,13,14,15,16,17,18,19,20,21,22], "labelExpr": "['B cells naive','B cells memory','Plasma cells','T cells CD8','T cells CD4 naive','T cells CD4 memory resting','T cells CD4 memory activated','T cells follicular helper','T cells regulatory (Tregs)','T cells gamma delta','NK cells resting','NK cells activated','Monocytes','Macrophages M0','Macrophages M1','Macrophages M2','Dendritic cells resting','Dendritic cells activated','Mast cells resting','Mast cells activated','Eosinophils','Neutrophils'][datum.value-1]", "labelAngle": -45, "labelAlign": "right", "labelBaseline": "middle", "labelFontSize": 10, "labelColor": "black", "labelPadding": 12, "ticks": false, "domain": false, "grid": false, "title": null, "labelOverlap": false, "labelFlush": false, "labelBound": false}},
  "x2": {"field": "xr"},
  "color": {"field": "g", "type": "nominal", "scale": {"domain": ["G", "R"], "range": ["#4DAE2C", "#E1251B"]}, "legend": null},
  "detail": {"field": "c", "type": "nominal"}
 }},
{"data": {"name": "vs"},
 "transform": [{"calculate": "datum.c + (datum.g === 'G' ? -0.17 : 0.17)", "as": "xc"}],
 "mark": {"type": "rule", "color": "#111111", "strokeWidth": 0.8},
 "encoding": {"x": {"field": "xc", "type": "quantitative", "scale": {"domain": [-1.607, 22.68], "nice": false, "zero": false}, "axis": null},
  "y": {"field": "lo", "type": "quantitative", "scale": {"domain": [-0.019, 0.466], "nice": false, "zero": false}, "axis": null}, "y2": {"field": "hi"}}},
{"data": {"name": "vs"},
 "transform": [{"calculate": "datum.c + (datum.g === 'G' ? -0.17 : 0.17)", "as": "xc"}],
 "mark": {"type": "rule", "color": "#111111", "strokeWidth": 1.6},
 "encoding": {"x": {"field": "xc", "type": "quantitative", "scale": {"domain": [-1.607, 22.68], "nice": false, "zero": false}, "axis": null},
  "y": {"field": "q1", "type": "quantitative", "scale": {"domain": [-0.019, 0.466], "nice": false, "zero": false}, "axis": null}, "y2": {"field": "q3"}}},
{"data": {"name": "vs"},
 "transform": [{"calculate": "datum.c + (datum.g === 'G' ? -0.17 : 0.17)", "as": "xc"}],
 "mark": {"type": "circle", "color": "white", "size": 16, "opacity": 1},
 "encoding": {"x": {"field": "xc", "type": "quantitative", "scale": {"domain": [-1.607, 22.68], "nice": false, "zero": false}, "axis": null},
  "y": {"field": "m", "type": "quantitative", "scale": {"domain": [-0.019, 0.466], "nice": false, "zero": false}, "axis": null}}},
{"data": {"name": "pv"},
 "transform": [{"calculate": "datum.c - 0.17", "as": "xa"}, {"calculate": "datum.c + 0.17", "as": "xb"}],
 "mark": {"type": "rule", "color": "#111111", "strokeWidth": 0.8},
 "encoding": {"x": {"field": "xa", "type": "quantitative", "scale": {"domain": [-1.607, 22.68], "nice": false, "zero": false}, "axis": null}, "x2": {"field": "xb"},
  "y": {"field": "yb", "type": "quantitative", "scale": {"domain": [-0.019, 0.466], "nice": false, "zero": false}, "axis": null}}},
{"data": {"name": "pv"},
 "transform": [{"calculate": "datum.c - 0.17", "as": "xa"}, {"calculate": "datum.yb - 0.006", "as": "yt"}],
 "mark": {"type": "rule", "color": "#111111", "strokeWidth": 0.8},
 "encoding": {"x": {"field": "xa", "type": "quantitative", "scale": {"domain": [-1.607, 22.68], "nice": false, "zero": false}, "axis": null},
  "y": {"field": "yb", "type": "quantitative", "scale": {"domain": [-0.019, 0.466], "nice": false, "zero": false}, "axis": null}, "y2": {"field": "yt"}}},
{"data": {"name": "pv"},
 "transform": [{"calculate": "datum.c + 0.17", "as": "xb"}, {"calculate": "datum.yb - 0.006", "as": "yt"}],
 "mark": {"type": "rule", "color": "#111111", "strokeWidth": 0.8},
 "encoding": {"x": {"field": "xb", "type": "quantitative", "scale": {"domain": [-1.607, 22.68], "nice": false, "zero": false}, "axis": null},
  "y": {"field": "yb", "type": "quantitative", "scale": {"domain": [-0.019, 0.466], "nice": false, "zero": false}, "axis": null}, "y2": {"field": "yt"}}},
{"data": {"name": "pv"},
 "mark": {"type": "text", "fontSize": 8, "baseline": "middle", "align": "center", "dy": -12, "color": "#111111"},
 "encoding": {"x": {"field": "c", "type": "quantitative", "scale": {"domain": [-1.607, 22.68], "nice": false, "zero": false}, "axis": null},
  "y": {"field": "yb", "type": "quantitative", "scale": {"domain": [-0.019, 0.466], "nice": false, "zero": false}, "axis": null},
  "text": {"field": "p"}}}
]
},
{
"spacing": 4,
"hconcat": [
{"width": 162, "height": 164,
 "title": {"text": "B", "anchor": "start", "frame": "bounds", "fontSize": 14, "fontWeight": "normal", "offset": -3},
 "view": {"stroke": "#B3B3B3", "strokeWidth": 0.8},
 "layer": [
  {"data": {"name": "sB"}, "mark": {"type": "circle", "size": 5, "color": "black", "opacity": 1},
   "encoding": {
    "x": {"field": "x", "type": "quantitative", "scale": {"domain": [-0.68, 14.2], "nice": false, "zero": false},
      "axis": {"values": [0, 2.5, 5, 7.5, 10, 12.5], "labelExpr": "datum.value % 5 === 0 ? datum.label : ''", "title": "CGB5", "titleFontSize": 5.3, "titleFontWeight": "normal", "titleColor": "black", "titlePadding": 2, "labelFontSize": 3.8, "labelColor": "#4D4D4D", "labelPadding": 1, "tickSize": 2, "tickColor": "#555555", "tickOpacity": {"condition": {"test": "datum.value % 5 === 0", "value": 1}, "value": 0}, "domain": false, "grid": true, "gridColor": "#EBEBEB", "gridWidth": {"condition": {"test": "datum.value % 5 === 0", "value": 0.7}, "value": 0.35}, "labelFlush": false}},
    "y": {"field": "y", "type": "quantitative", "scale": {"domain": [-0.0117, 0.2447], "nice": false, "zero": false},
      "axis": {"values": [0, 0.025, 0.05, 0.075, 0.1, 0.125, 0.15, 0.175, 0.2, 0.225], "format": ".2f", "labelExpr": "abs(datum.value*20 - round(datum.value*20)) < 0.001 ? datum.label : ''", "title": "Macrophages M0", "titleFontSize": 4.8, "titleFontWeight": "normal", "titleColor": "black", "titlePadding": 2, "labelFontSize": 3.8, "labelColor": "#4D4D4D", "labelPadding": 1, "tickSize": 2, "tickColor": "#555555", "tickOpacity": {"condition": {"test": "abs(datum.value*20 - round(datum.value*20)) < 0.001", "value": 1}, "value": 0}, "domain": false, "grid": true, "gridColor": "#EBEBEB", "gridWidth": {"condition": {"test": "abs(datum.value*20 - round(datum.value*20)) < 0.001", "value": 0.7}, "value": 0.35}, "labelFlush": false}}
   }},
  {"data": {"name": "rB"}, "mark": {"type": "area", "color": "#999999", "opacity": 0.45, "interpolate": "monotone"},
   "encoding": {"x": {"field": "x", "type": "quantitative", "scale": {"domain": [-0.68, 14.2], "nice": false, "zero": false}},
    "y": {"field": "lo", "type": "quantitative", "scale": {"domain": [-0.0117, 0.2447], "nice": false, "zero": false}}, "y2": {"field": "hi"}}},
  {"data": {"name": "rB"}, "mark": {"type": "line", "color": "#3366FF", "strokeWidth": 1},
   "encoding": {"x": {"field": "x", "type": "quantitative", "scale": {"domain": [-0.68, 14.2], "nice": false, "zero": false}},
    "y": {"field": "m", "type": "quantitative", "scale": {"domain": [-0.0117, 0.2447], "nice": false, "zero": false}}}},
  {"data": {"values": [{}]}, "mark": {"type": "text", "align": "left", "baseline": "middle", "fontSize": 5.6, "color": "black"},
   "encoding": {"x": {"datum": 0, "type": "quantitative", "scale": {"domain": [-0.68, 14.2], "nice": false, "zero": false}},
    "y": {"datum": 0.225, "type": "quantitative", "scale": {"domain": [-0.0117, 0.2447], "nice": false, "zero": false}},
    "text": {"value": "R = 0.11, p = 0.043"}}}
 ]},
{"width": 162, "height": 164,
 "title": {"text": "C", "anchor": "start", "frame": "bounds", "fontSize": 14, "fontWeight": "normal", "offset": -3},
 "view": {"stroke": "#B3B3B3", "strokeWidth": 0.8},
 "layer": [
  {"data": {"name": "sC"}, "mark": {"type": "circle", "size": 5, "color": "black", "opacity": 1},
   "encoding": {
    "x": {"field": "x", "type": "quantitative", "scale": {"domain": [-0.68, 14.2], "nice": false, "zero": false},
      "axis": {"values": [0, 2.5, 5, 7.5, 10, 12.5], "labelExpr": "datum.value % 5 === 0 ? datum.label : ''", "title": "CGB5", "titleFontSize": 5.3, "titleFontWeight": "normal", "titleColor": "black", "titlePadding": 2, "labelFontSize": 3.8, "labelColor": "#4D4D4D", "labelPadding": 1, "tickSize": 2, "tickColor": "#555555", "tickOpacity": {"condition": {"test": "datum.value % 5 === 0", "value": 1}, "value": 0}, "domain": false, "grid": true, "gridColor": "#EBEBEB", "gridWidth": {"condition": {"test": "datum.value % 5 === 0", "value": 0.7}, "value": 0.35}, "labelFlush": false}},
    "y": {"field": "y", "type": "quantitative", "scale": {"domain": [-0.0057, 0.1186], "nice": false, "zero": false},
      "axis": {"values": [0, 0.015, 0.03, 0.045, 0.06, 0.075, 0.09, 0.105], "format": ".2f", "labelExpr": "abs(datum.value/0.03 - round(datum.value/0.03)) < 0.001 ? datum.label : ''", "title": "Mast cells activated", "titleFontSize": 4.8, "titleFontWeight": "normal", "titleColor": "black", "titlePadding": 2, "labelFontSize": 3.8, "labelColor": "#4D4D4D", "labelPadding": 1, "tickSize": 2, "tickColor": "#555555", "tickOpacity": {"condition": {"test": "abs(datum.value/0.03 - round(datum.value/0.03)) < 0.001", "value": 1}, "value": 0}, "domain": false, "grid": true, "gridColor": "#EBEBEB", "gridWidth": {"condition": {"test": "abs(datum.value/0.03 - round(datum.value/0.03)) < 0.001", "value": 0.7}, "value": 0.35}, "labelFlush": false}}
   }},
  {"data": {"name": "rC"}, "mark": {"type": "area", "color": "#999999", "opacity": 0.45, "interpolate": "monotone"},
   "encoding": {"x": {"field": "x", "type": "quantitative", "scale": {"domain": [-0.68, 14.2], "nice": false, "zero": false}},
    "y": {"field": "lo", "type": "quantitative", "scale": {"domain": [-0.0057, 0.1186], "nice": false, "zero": false}}, "y2": {"field": "hi"}}},
  {"data": {"name": "rC"}, "mark": {"type": "line", "color": "#3366FF", "strokeWidth": 1},
   "encoding": {"x": {"field": "x", "type": "quantitative", "scale": {"domain": [-0.68, 14.2], "nice": false, "zero": false}},
    "y": {"field": "m", "type": "quantitative", "scale": {"domain": [-0.0057, 0.1186], "nice": false, "zero": false}}}},
  {"data": {"values": [{}]}, "mark": {"type": "text", "align": "left", "baseline": "middle", "fontSize": 5.6, "color": "black"},
   "encoding": {"x": {"datum": 0, "type": "quantitative", "scale": {"domain": [-0.68, 14.2], "nice": false, "zero": false}},
    "y": {"datum": 0.1085, "type": "quantitative", "scale": {"domain": [-0.0057, 0.1186], "nice": false, "zero": false}},
    "text": {"value": "R = 0.14, p = 0.012"}}}
 ]},
{"width": 162, "height": 164,
 "title": {"text": "D", "anchor": "start", "frame": "bounds", "fontSize": 14, "fontWeight": "normal", "offset": -3},
 "view": {"stroke": "#B3B3B3", "strokeWidth": 0.8},
 "layer": [
  {"data": {"name": "sD"}, "mark": {"type": "circle", "size": 5, "color": "black", "opacity": 1},
   "encoding": {
    "x": {"field": "x", "type": "quantitative", "scale": {"domain": [-0.68, 14.2], "nice": false, "zero": false},
      "axis": {"values": [0, 2.5, 5, 7.5, 10, 12.5], "labelExpr": "datum.value % 5 === 0 ? datum.label : ''", "title": "CGB5", "titleFontSize": 5.3, "titleFontWeight": "normal", "titleColor": "black", "titlePadding": 2, "labelFontSize": 3.8, "labelColor": "#4D4D4D", "labelPadding": 1, "tickSize": 2, "tickColor": "#555555", "tickOpacity": {"condition": {"test": "datum.value % 5 === 0", "value": 1}, "value": 0}, "domain": false, "grid": true, "gridColor": "#EBEBEB", "gridWidth": {"condition": {"test": "datum.value % 5 === 0", "value": 0.7}, "value": 0.35}, "labelFlush": false}},
    "y": {"field": "y", "type": "quantitative", "scale": {"domain": [-0.0178, 0.1385], "nice": false, "zero": false},
      "axis": {"values": [0, 0.025, 0.05, 0.075, 0.1, 0.125], "format": ".2f", "labelExpr": "abs(datum.value*20 - round(datum.value*20)) < 0.001 ? datum.label : ''", "title": "T cells CD4 memory activated", "titleFontSize": 4.8, "titleFontWeight": "normal", "titleColor": "black", "titlePadding": 2, "labelFontSize": 3.8, "labelColor": "#4D4D4D", "labelPadding": 1, "tickSize": 2, "tickColor": "#555555", "tickOpacity": {"condition": {"test": "abs(datum.value*20 - round(datum.value*20)) < 0.001", "value": 1}, "value": 0}, "domain": false, "grid": true, "gridColor": "#EBEBEB", "gridWidth": {"condition": {"test": "abs(datum.value*20 - round(datum.value*20)) < 0.001", "value": 0.7}, "value": 0.35}, "labelFlush": false}}
   }},
  {"data": {"name": "rD"}, "mark": {"type": "area", "color": "#999999", "opacity": 0.45, "interpolate": "monotone"},
   "encoding": {"x": {"field": "x", "type": "quantitative", "scale": {"domain": [-0.68, 14.2], "nice": false, "zero": false}},
    "y": {"field": "lo", "type": "quantitative", "scale": {"domain": [-0.0178, 0.1385], "nice": false, "zero": false}}, "y2": {"field": "hi"}}},
  {"data": {"name": "rD"}, "mark": {"type": "line", "color": "#3366FF", "strokeWidth": 1},
   "encoding": {"x": {"field": "x", "type": "quantitative", "scale": {"domain": [-0.68, 14.2], "nice": false, "zero": false}},
    "y": {"field": "m", "type": "quantitative", "scale": {"domain": [-0.0178, 0.1385], "nice": false, "zero": false}}}},
  {"data": {"values": [{}]}, "mark": {"type": "text", "align": "left", "baseline": "middle", "fontSize": 5.6, "color": "black"},
   "encoding": {"x": {"datum": 0, "type": "quantitative", "scale": {"domain": [-0.68, 14.2], "nice": false, "zero": false}},
    "y": {"datum": 0.1267, "type": "quantitative", "scale": {"domain": [-0.0178, 0.1385], "nice": false, "zero": false}},
    "text": {"value": "R = -0.21, p = 8.3e-05"}}}
 ]},
{"width": 162, "height": 164,
 "title": {"text": "E", "anchor": "start", "frame": "bounds", "fontSize": 14, "fontWeight": "normal", "offset": -3},
 "view": {"stroke": "#B3B3B3", "strokeWidth": 0.8},
 "layer": [
  {"data": {"name": "sE"}, "mark": {"type": "circle", "size": 5, "color": "black", "opacity": 1},
   "encoding": {
    "x": {"field": "x", "type": "quantitative", "scale": {"domain": [-0.68, 14.2], "nice": false, "zero": false},
      "axis": {"values": [0, 2.5, 5, 7.5, 10, 12.5], "labelExpr": "datum.value % 5 === 0 ? datum.label : ''", "title": "CGB5", "titleFontSize": 5.3, "titleFontWeight": "normal", "titleColor": "black", "titlePadding": 2, "labelFontSize": 3.8, "labelColor": "#4D4D4D", "labelPadding": 1, "tickSize": 2, "tickColor": "#555555", "tickOpacity": {"condition": {"test": "datum.value % 5 === 0", "value": 1}, "value": 0}, "domain": false, "grid": true, "gridColor": "#EBEBEB", "gridWidth": {"condition": {"test": "datum.value % 5 === 0", "value": 0.7}, "value": 0.35}, "labelFlush": false}},
    "y": {"field": "y", "type": "quantitative", "scale": {"domain": [0.045, 0.441], "nice": false, "zero": false},
      "axis": {"values": [0.05, 0.1, 0.15, 0.2, 0.25, 0.3, 0.35, 0.4], "format": ".1f", "labelExpr": "abs(datum.value*10 - round(datum.value*10)) < 0.001 ? datum.label : ''", "title": "T cells CD4 memory resting", "titleFontSize": 4.8, "titleFontWeight": "normal", "titleColor": "black", "titlePadding": 2, "labelFontSize": 3.8, "labelColor": "#4D4D4D", "labelPadding": 1, "tickSize": 2, "tickColor": "#555555", "tickOpacity": {"condition": {"test": "abs(datum.value*10 - round(datum.value*10)) < 0.001", "value": 1}, "value": 0}, "domain": false, "grid": true, "gridColor": "#EBEBEB", "gridWidth": {"condition": {"test": "abs(datum.value*10 - round(datum.value*10)) < 0.001", "value": 0.7}, "value": 0.35}, "labelFlush": false}}
   }},
  {"data": {"name": "rE"}, "mark": {"type": "area", "color": "#999999", "opacity": 0.45, "interpolate": "monotone"},
   "encoding": {"x": {"field": "x", "type": "quantitative", "scale": {"domain": [-0.68, 14.2], "nice": false, "zero": false}},
    "y": {"field": "lo", "type": "quantitative", "scale": {"domain": [0.045, 0.441], "nice": false, "zero": false}}, "y2": {"field": "hi"}}},
  {"data": {"name": "rE"}, "mark": {"type": "line", "color": "#3366FF", "strokeWidth": 1},
   "encoding": {"x": {"field": "x", "type": "quantitative", "scale": {"domain": [-0.68, 14.2], "nice": false, "zero": false}},
    "y": {"field": "m", "type": "quantitative", "scale": {"domain": [0.045, 0.441], "nice": false, "zero": false}}}},
  {"data": {"values": [{}]}, "mark": {"type": "text", "align": "left", "baseline": "middle", "fontSize": 5.6, "color": "black"},
   "encoding": {"x": {"datum": 0, "type": "quantitative", "scale": {"domain": [-0.68, 14.2], "nice": false, "zero": false}},
    "y": {"datum": 0.416, "type": "quantitative", "scale": {"domain": [0.045, 0.441], "nice": false, "zero": false}},
    "text": {"value": "R = 0.14, p = 0.014"}}}
 ]}
]
},
{"width": 158, "height": 161,
 "title": {"text": "F", "anchor": "start", "frame": "bounds", "fontSize": 14, "fontWeight": "normal", "offset": -10},
 "view": {"stroke": "#B3B3B3", "strokeWidth": 0.8},
 "layer": [
  {"data": {"name": "sF"}, "mark": {"type": "circle", "size": 5, "color": "black", "opacity": 1},
   "encoding": {
    "x": {"field": "x", "type": "quantitative", "scale": {"domain": [-0.68, 14.2], "nice": false, "zero": false},
      "axis": {"values": [0, 2.5, 5, 7.5, 10, 12.5], "labelExpr": "datum.value % 5 === 0 ? datum.label : ''", "title": "CGB5", "titleFontSize": 5.3, "titleFontWeight": "normal", "titleColor": "black", "titlePadding": 2, "labelFontSize": 3.8, "labelColor": "#4D4D4D", "labelPadding": 1, "tickSize": 2, "tickColor": "#555555", "tickOpacity": {"condition": {"test": "datum.value % 5 === 0", "value": 1}, "value": 0}, "domain": false, "grid": true, "gridColor": "#EBEBEB", "gridWidth": {"condition": {"test": "datum.value % 5 === 0", "value": 0.7}, "value": 0.35}, "labelFlush": false}},
    "y": {"field": "y", "type": "quantitative", "scale": {"domain": [-0.02, 0.235], "nice": false, "zero": false},
      "axis": {"values": [0, 0.025, 0.05, 0.075, 0.1, 0.125, 0.15, 0.175, 0.2, 0.225], "format": ".2f", "labelExpr": "abs(datum.value*20 - round(datum.value*20)) < 0.001 ? datum.label : ''", "title": "T cells CD8", "titleFontSize": 4.8, "titleFontWeight": "normal", "titleColor": "black", "titlePadding": 2, "labelFontSize": 3.8, "labelColor": "#4D4D4D", "labelPadding": 1, "tickSize": 2, "tickColor": "#555555", "tickOpacity": {"condition": {"test": "abs(datum.value*20 - round(datum.value*20)) < 0.001", "value": 1}, "value": 0}, "domain": false, "grid": true, "gridColor": "#EBEBEB", "gridWidth": {"condition": {"test": "abs(datum.value*20 - round(datum.value*20)) < 0.001", "value": 0.7}, "value": 0.35}, "labelFlush": false}}
   }},
  {"data": {"name": "rF"}, "mark": {"type": "area", "color": "#999999", "opacity": 0.45, "interpolate": "monotone"},
   "encoding": {"x": {"field": "x", "type": "quantitative", "scale": {"domain": [-0.68, 14.2], "nice": false, "zero": false}},
    "y": {"field": "lo", "type": "quantitative", "scale": {"domain": [-0.02, 0.235], "nice": false, "zero": false}}, "y2": {"field": "hi"}}},
  {"data": {"name": "rF"}, "mark": {"type": "line", "color": "#3366FF", "strokeWidth": 1},
   "encoding": {"x": {"field": "x", "type": "quantitative", "scale": {"domain": [-0.68, 14.2], "nice": false, "zero": false}},
    "y": {"field": "m", "type": "quantitative", "scale": {"domain": [-0.02, 0.235], "nice": false, "zero": false}}}},
  {"data": {"values": [{}]}, "mark": {"type": "text", "align": "left", "baseline": "middle", "fontSize": 5.6, "color": "black"},
   "encoding": {"x": {"datum": 0, "type": "quantitative", "scale": {"domain": [-0.68, 14.2], "nice": false, "zero": false}},
    "y": {"datum": 0.218, "type": "quantitative", "scale": {"domain": [-0.02, 0.235], "nice": false, "zero": false}},
    "text": {"value": "R = -0.2, p = 0.00021"}}}
 ]}
]
}
